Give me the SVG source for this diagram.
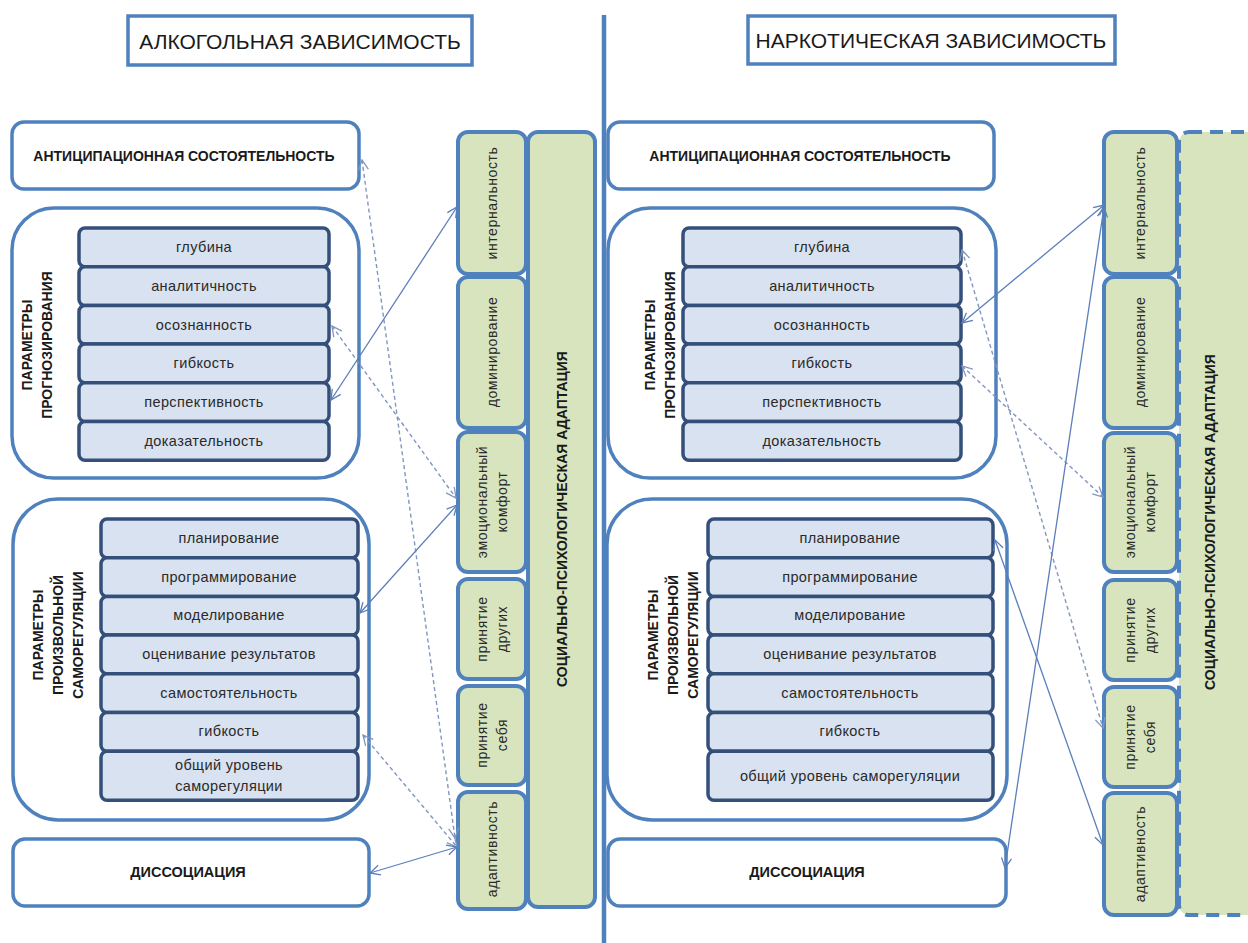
<svg xmlns="http://www.w3.org/2000/svg" width="1248" height="943" viewBox="0 0 1248 943">
<style>
text{font-family:"Liberation Sans",Arial,sans-serif;fill:#222;text-anchor:middle;dominant-baseline:central}
.title{font-size:21px;fill:#1a1a1a}
.hb{font-size:14px;font-weight:bold;fill:#1a1a1a}
.it{font-size:14.5px;letter-spacing:0.4px;fill:#2a2a2a}
.gt{font-size:14px;letter-spacing:0.6px;fill:#2a2a2a}
.box{fill:#fff;stroke:#4f81bd;stroke-width:3.5}
.item{fill:#d9e2f0;stroke:#34507a;stroke-width:3.5}
.gr{fill:#d7e4bd;stroke:#4f81bd;stroke-width:4}
.grd{fill:#d7e4bd;stroke:#4f81bd;stroke-width:4;stroke-dasharray:13 8}
.sol{fill:none;stroke:#5b7fba;stroke-width:1.3}
.das{fill:none;stroke:#8196c0;stroke-width:1.4;stroke-dasharray:4 3}
</style>
<defs>
<marker id="as" viewBox="0 0 12 12" refX="11" refY="6" markerWidth="12" markerHeight="12" markerUnits="userSpaceOnUse" orient="auto-start-reverse"><path d="M1,1 L11,6 L1,11" fill="none" stroke="#5b7fba" stroke-width="1.3"/></marker>
<marker id="ad" viewBox="0 0 12 12" refX="11" refY="6" markerWidth="12" markerHeight="12" markerUnits="userSpaceOnUse" orient="auto-start-reverse"><path d="M1,1 L11,6 L1,11" fill="none" stroke="#8196c0" stroke-width="1.3"/></marker>
</defs>
<rect width="1248" height="943" fill="#fff"/>

<line x1="604" y1="15" x2="604" y2="943" stroke="#4f81bd" stroke-width="4.5"/>

<g id="title-left"><rect class="box" x="128" y="16" width="344" height="49"/><text class="title" x="300" y="41">АЛКОГОЛЬНАЯ ЗАВИСИМОСТЬ</text></g>
<g id="title-right"><rect class="box" x="748" y="16" width="367" height="48"/><text class="title" x="931" y="40">НАРКОТИЧЕСКАЯ ЗАВИСИМОСТЬ</text></g>

<!-- LEFT -->
<g id="L-antic"><rect class="box" x="12" y="122" width="347" height="67" rx="12"/><text class="hb" x="184" y="156">АНТИЦИПАЦИОННАЯ СОСТОЯТЕЛЬНОСТЬ</text></g>
<g id="L-prog">
<rect class="box" x="12" y="208" width="347" height="270" rx="42"/>
<text class="hb" transform="translate(27,345) rotate(-90)">ПАРАМЕТРЫ</text>
<text class="hb" transform="translate(47,345) rotate(-90)">ПРОГНОЗИРОВАНИЯ</text>
<rect class="item" x="79" y="228" width="250" height="38.7" rx="6"/><text class="it" x="204" y="247">глубина</text>
<rect class="item" x="79" y="266.7" width="250" height="38.7" rx="6"/><text class="it" x="204" y="286">аналитичность</text>
<rect class="item" x="79" y="305.4" width="250" height="38.7" rx="6"/><text class="it" x="204" y="325">осознанность</text>
<rect class="item" x="79" y="344.1" width="250" height="38.7" rx="6"/><text class="it" x="204" y="363">гибкость</text>
<rect class="item" x="79" y="382.8" width="250" height="38.7" rx="6"/><text class="it" x="204" y="402">перспективность</text>
<rect class="item" x="79" y="421.5" width="250" height="38.7" rx="6"/><text class="it" x="204" y="441">доказательность</text>
</g>
<g id="L-samoreg">
<rect class="box" x="13" y="499" width="356" height="321" rx="45"/>
<text class="hb" transform="translate(38,635) rotate(-90)">ПАРАМЕТРЫ</text>
<text class="hb" transform="translate(58,635) rotate(-90)">ПРОИЗВОЛЬНОЙ</text>
<text class="hb" transform="translate(78,635) rotate(-90)">САМОРЕГУЛЯЦИИ</text>
<rect class="item" x="101" y="519" width="257" height="38.7" rx="6"/><text class="it" x="229" y="538">планирование</text>
<rect class="item" x="101" y="557.7" width="257" height="38.7" rx="6"/><text class="it" x="229" y="577">программирование</text>
<rect class="item" x="101" y="596.4" width="257" height="38.7" rx="6"/><text class="it" x="229" y="615">моделирование</text>
<rect class="item" x="101" y="635.1" width="257" height="38.7" rx="6"/><text class="it" x="229" y="654">оценивание результатов</text>
<rect class="item" x="101" y="673.8" width="257" height="38.7" rx="6"/><text class="it" x="229" y="693">самостоятельность</text>
<rect class="item" x="101" y="712.5" width="257" height="38.7" rx="6"/><text class="it" x="229" y="731">гибкость</text>
<rect class="item" x="101" y="751.2" width="257" height="49" rx="6"/><text class="it" x="229" y="765">общий уровень</text><text class="it" x="229" y="786">саморегуляции</text>
</g>
<g id="L-dissoc"><rect class="box" x="13" y="839" width="356" height="67" rx="12"/><text class="hb" x="188" y="872" style="font-size:14.5px">ДИССОЦИАЦИЯ</text></g>

<g id="L-adapt">
<rect class="gr" x="528" y="132" width="67" height="775" rx="10"/>
<text class="hb" transform="translate(562,519) rotate(-90)">СОЦИАЛЬНО-ПСИХОЛОГИЧЕСКАЯ  АДАПТАЦИЯ</text>
</g>
<g id="L-internal"><rect class="gr" x="458" y="132" width="68" height="142" rx="10"/><text class="gt" transform="translate(492,203) rotate(-90)">интернальность</text></g>
<g id="L-domin"><rect class="gr" x="458" y="277" width="68" height="151" rx="10"/><text class="gt" transform="translate(492,352) rotate(-90)">доминирование</text></g>
<g id="L-emo"><rect class="gr" x="458" y="432" width="68" height="140" rx="10"/><text class="gt" transform="translate(482,502) rotate(-90)">эмоциональный</text><text class="gt" transform="translate(502,502) rotate(-90)">комфорт</text></g>
<g id="L-others"><rect class="gr" x="458" y="579" width="68" height="100" rx="10"/><text class="gt" transform="translate(482,629) rotate(-90)">принятие</text><text class="gt" transform="translate(502,629) rotate(-90)">других</text></g>
<g id="L-self"><rect class="gr" x="458" y="686" width="68" height="99" rx="10"/><text class="gt" transform="translate(482,735) rotate(-90)">принятие</text><text class="gt" transform="translate(502,735) rotate(-90)">себя</text></g>
<g id="L-adaptiv"><rect class="gr" x="458" y="792" width="68" height="117" rx="10"/><text class="gt" transform="translate(492,849) rotate(-90)">адаптивность</text></g>

<!-- RIGHT -->
<g id="R-antic"><rect class="box" x="608" y="122" width="386" height="67" rx="12"/><text class="hb" x="800" y="156">АНТИЦИПАЦИОННАЯ СОСТОЯТЕЛЬНОСТЬ</text></g>
<g id="R-prog">
<rect class="box" x="608" y="208" width="388" height="270" rx="42"/>
<text class="hb" transform="translate(650,345) rotate(-90)">ПАРАМЕТРЫ</text>
<text class="hb" transform="translate(670,345) rotate(-90)">ПРОГНОЗИРОВАНИЯ</text>
<rect class="item" x="683" y="228" width="278" height="38.7" rx="6"/><text class="it" x="822" y="247">глубина</text>
<rect class="item" x="683" y="266.7" width="278" height="38.7" rx="6"/><text class="it" x="822" y="286">аналитичность</text>
<rect class="item" x="683" y="305.4" width="278" height="38.7" rx="6"/><text class="it" x="822" y="325">осознанность</text>
<rect class="item" x="683" y="344.1" width="278" height="38.7" rx="6"/><text class="it" x="822" y="363">гибкость</text>
<rect class="item" x="683" y="382.8" width="278" height="38.7" rx="6"/><text class="it" x="822" y="402">перспективность</text>
<rect class="item" x="683" y="421.5" width="278" height="38.7" rx="6"/><text class="it" x="822" y="441">доказательность</text>
</g>
<g id="R-samoreg">
<rect class="box" x="607" y="499" width="400" height="321" rx="45"/>
<text class="hb" transform="translate(653,635) rotate(-90)">ПАРАМЕТРЫ</text>
<text class="hb" transform="translate(673,635) rotate(-90)">ПРОИЗВОЛЬНОЙ</text>
<text class="hb" transform="translate(693,635) rotate(-90)">САМОРЕГУЛЯЦИИ</text>
<rect class="item" x="708" y="519" width="285" height="38.7" rx="6"/><text class="it" x="850" y="538">планирование</text>
<rect class="item" x="708" y="557.7" width="285" height="38.7" rx="6"/><text class="it" x="850" y="577">программирование</text>
<rect class="item" x="708" y="596.4" width="285" height="38.7" rx="6"/><text class="it" x="850" y="615">моделирование</text>
<rect class="item" x="708" y="635.1" width="285" height="38.7" rx="6"/><text class="it" x="850" y="654">оценивание результатов</text>
<rect class="item" x="708" y="673.8" width="285" height="38.7" rx="6"/><text class="it" x="850" y="693">самостоятельность</text>
<rect class="item" x="708" y="712.5" width="285" height="38.7" rx="6"/><text class="it" x="850" y="731">гибкость</text>
<rect class="item" x="708" y="751.2" width="285" height="49" rx="6"/><text class="it" x="850" y="776">общий уровень саморегуляции</text>
</g>
<g id="R-dissoc"><rect class="box" x="608" y="839" width="398" height="67" rx="12"/><text class="hb" x="807" y="872" style="font-size:14.5px">ДИССОЦИАЦИЯ</text></g>

<g id="R-adapt">
<rect class="grd" x="1179" y="132" width="100" height="783" rx="10"/>
<text class="hb" transform="translate(1210,522) rotate(-90)">СОЦИАЛЬНО-ПСИХОЛОГИЧЕСКАЯ  АДАПТАЦИЯ</text>
</g>
<g id="R-internal"><rect class="gr" x="1104" y="132" width="73" height="142" rx="10"/><text class="gt" transform="translate(1140,203) rotate(-90)">интернальность</text></g>
<g id="R-domin"><rect class="gr" x="1104" y="277" width="73" height="151" rx="10"/><text class="gt" transform="translate(1140,352) rotate(-90)">доминирование</text></g>
<g id="R-emo"><rect class="gr" x="1104" y="433" width="73" height="139" rx="10"/><text class="gt" transform="translate(1130,502) rotate(-90)">эмоциональный</text><text class="gt" transform="translate(1150,502) rotate(-90)">комфорт</text></g>
<g id="R-others"><rect class="gr" x="1104" y="580" width="73" height="100" rx="10"/><text class="gt" transform="translate(1130,630) rotate(-90)">принятие</text><text class="gt" transform="translate(1150,630) rotate(-90)">других</text></g>
<g id="R-self"><rect class="gr" x="1104" y="687" width="73" height="100" rx="10"/><text class="gt" transform="translate(1130,737) rotate(-90)">принятие</text><text class="gt" transform="translate(1150,737) rotate(-90)">себя</text></g>
<g id="R-adaptiv"><rect class="gr" x="1104" y="793" width="73" height="122" rx="10"/><text class="gt" transform="translate(1140,854) rotate(-90)">адаптивность</text></g>

<g id="connectors">
<line class="das" x1="362" y1="160" x2="455" y2="838" marker-start="url(#ad)" marker-end="url(#ad)"/>
<line class="das" x1="332" y1="326" x2="456" y2="498" marker-start="url(#ad)" marker-end="url(#ad)"/>
<line class="sol" x1="331" y1="400" x2="457" y2="207" marker-start="url(#as)" marker-end="url(#as)"/>
<line class="sol" x1="360" y1="613" x2="457" y2="505" marker-start="url(#as)" marker-end="url(#as)"/>
<line class="das" x1="363" y1="735" x2="457" y2="847" marker-start="url(#ad)" marker-end="url(#ad)"/>
<line class="sol" x1="370" y1="873" x2="457" y2="847" marker-start="url(#as)" marker-end="url(#as)"/>

<line class="das" x1="962" y1="250" x2="1103" y2="728" marker-start="url(#ad)" marker-end="url(#ad)"/>
<line class="sol" x1="962" y1="323" x2="1104" y2="205" marker-start="url(#as)" marker-end="url(#as)"/>
<line class="das" x1="962" y1="366" x2="1103" y2="497" marker-start="url(#ad)" marker-end="url(#ad)"/>
<line class="sol" x1="995" y1="540" x2="1103" y2="845" marker-start="url(#as)" marker-end="url(#as)"/>
<line class="sol" x1="1005" y1="868" x2="1104" y2="207" marker-start="url(#as)" marker-end="url(#as)"/>
</g>
</svg>
